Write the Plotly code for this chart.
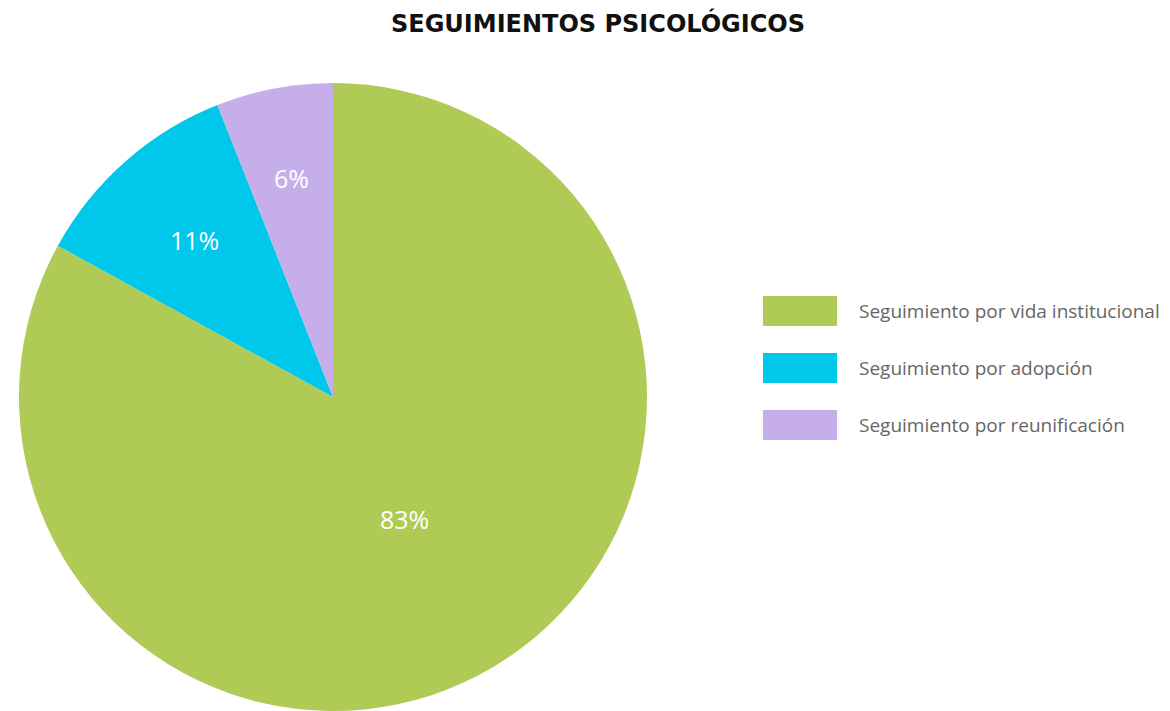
import math
import plotly.graph_objects as go

categories = ["Seguimiento por vida institucional", "Seguimiento por adopción", "Seguimiento por reunificación"]
values = [83, 11, 6]
colors = ["#b0ca56", "#00c8ea", "#c6aeea"]
title_text = "SEGUIMIENTOS PSICOLÓGICOS"

# label radial placement (fraction of radius), style only
label_rfrac = [0.45, 0.665, 0.71]

W, H = 1170, 711
dom_x = [19 / W, 647 / W]
dom_y = [0, 628 / H]

fig = go.Figure()
fig.add_trace(go.Pie(
    labels=categories,
    values=values,
    marker=dict(colors=colors, line=dict(width=0)),
    sort=False,
    direction="clockwise",
    rotation=0,
    textinfo="none",
    domain=dict(x=dom_x, y=dom_y),
    showlegend=False,
    hoverinfo="label+percent",
))

# percentage labels computed from the values (clockwise from top)
total = sum(values)
cx = (dom_x[0] + dom_x[1]) / 2 * W
cy = (1 - (dom_y[0] + dom_y[1]) / 2) * H
R = (dom_x[1] - dom_x[0]) * W / 2
cum = 0
for v, f in zip(values, label_rfrac):
    mid = (cum + v / 2) / total * 2 * math.pi
    cum += v
    px = cx + f * R * math.sin(mid)
    py = cy - f * R * math.cos(mid)
    fig.add_annotation(xref="paper", yref="paper", x=px / W, y=1 - py / H,
                       text=f"{round(v / total * 100)}%", showarrow=False,
                       xanchor="center", yanchor="middle",
                       font=dict(size=25, color="white", family="Open Sans"))

# custom legend
for i, (cat, col) in enumerate(zip(categories, colors)):
    y0 = 296 + i * 57
    fig.add_shape(type="rect", xref="paper", yref="paper",
                  x0=763 / W, x1=837 / W, y0=1 - (y0 + 30) / H, y1=1 - y0 / H,
                  fillcolor=col, line=dict(width=0))
    fig.add_annotation(xref="paper", yref="paper", x=857 / W, y=1 - (y0 + 15) / H,
                       text=cat, showarrow=False, xanchor="left", yanchor="middle",
                       font=dict(size=19, color="#666666", family="Open Sans"))

fig.update_layout(
    width=W, height=H,
    margin=dict(l=0, r=0, t=0, b=0),
    paper_bgcolor="white",
    title=dict(text="<b>" + title_text + "</b>", x=598 / W, xanchor="center",
               y=1 - 24 / H, yanchor="middle",
               font=dict(size=24, color="#111111", family="DejaVu Sans")),
)
fig.write_html("out.html", post_script="document.body.style.margin='0';",
               config={"displayModeBar": False})
